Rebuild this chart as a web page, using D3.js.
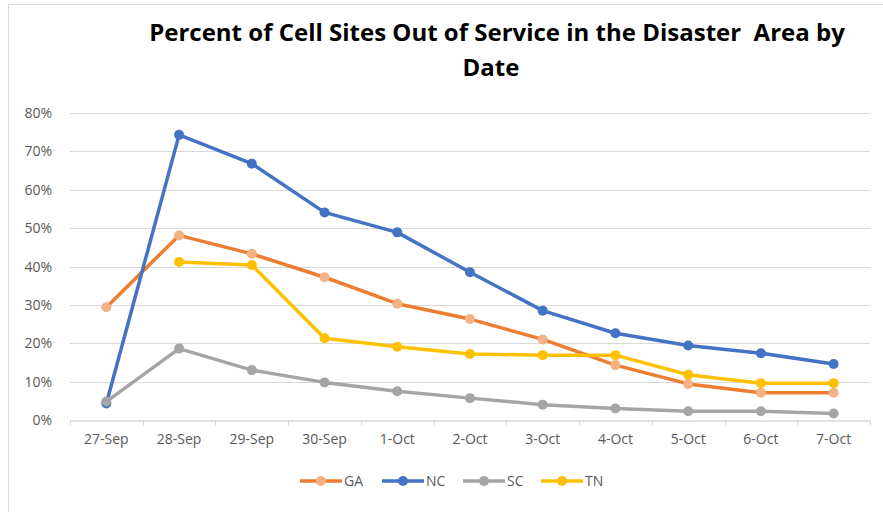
<!DOCTYPE html>
<html>
<head>
<meta charset="utf-8">
<script src="https://d3js.org/d3.v7.min.js"></script>
<style>
  body { margin: 0; background: #fff; }
  text { font-family: "Open Sans", "Liberation Sans", sans-serif; }
</style>
</head>
<body>
<div id="chart"></div>
<script>
// ---- data
var dates = ["27-Sep", "28-Sep", "29-Sep", "30-Sep", "1-Oct", "2-Oct", "3-Oct", "4-Oct", "5-Oct", "6-Oct", "7-Oct"];
var gaVals = [0.294, 0.481, 0.433, 0.372, 0.303, 0.263, 0.210, 0.143, 0.094, 0.071, 0.071];
var ncVals = [0.043, 0.743, 0.668, 0.541, 0.489, 0.385, 0.285, 0.226, 0.194, 0.174, 0.146];
var scVals = [0.048, 0.186, 0.130, 0.098, 0.075, 0.057, 0.040, 0.030, 0.023, 0.023, 0.017];
var tnVals = [null, 0.412, 0.404, 0.213, 0.191, 0.172, 0.169, 0.169, 0.118, 0.096, 0.096];
var yTicks = [0, 0.1, 0.2, 0.3, 0.4, 0.5, 0.6, 0.7, 0.8];

var series = [
  {name: "GA", vals: gaVals, line: "#ED7D31", dot: "#F4B183"},
  {name: "NC", vals: ncVals, line: "#4472C4", dot: "#4472C4"},
  {name: "SC", vals: scVals, line: "#A5A5A5", dot: "#A5A5A5"},
  {name: "TN", vals: tnVals, line: "#FFC000", dot: "#FFC000"}
];

var width = 883, height = 512;
var pLeft = 70, pRight = 870, pTop = 113, pBottom = 420;

var svg = d3.select("#chart").append("svg")
    .attr("width", width)
    .attr("height", height);

// chart frame (only top/left visible in the picture)
svg.append("path")
    .attr("d", "M8.5,512 V4.5 H883")
    .attr("fill", "none")
    .attr("stroke", "#d9d9d9");

var x = d3.scaleBand().domain(dates).range([pLeft, pRight]);
var y = d3.scaleLinear().domain([0, 0.8]).range([pBottom, pTop]);

// gridlines
svg.append("g").selectAll("line")
    .data(yTicks.slice(1))
    .enter().append("line")
    .attr("x1", pLeft).attr("x2", pRight)
    .attr("y1", d => Math.round(y(d)) + 0.5)
    .attr("y2", d => Math.round(y(d)) + 0.5)
    .attr("stroke", "#d9d9d9")
    .attr("stroke-width", 1);

// y labels
svg.append("g").selectAll("text")
    .data(yTicks)
    .enter().append("text")
    .attr("x", 52)
    .attr("y", d => y(d) + 5)
    .attr("text-anchor", "end")
    .attr("fill", "#595959")
    .style("font-size", "14px")
    .text(d3.format(".0%"));

// x axis
var xAxis = d3.axisBottom(x).tickSize(0).tickPadding(14);
var gx = svg.append("g")
    .attr("transform", "translate(0," + (Math.round(pBottom) + 0.5) + ")")
    .call(xAxis);
gx.select(".domain").attr("stroke", "#d9d9d9").attr("stroke-width", 1.5);
gx.selectAll("text")
    .attr("fill", "#595959")
    .style("font-size", "14px")
    .style("font-family", "'Open Sans', 'Liberation Sans', sans-serif");
// category boundary ticks
gx.append("g").selectAll("line")
    .data(dates.concat(["end"]))
    .enter().append("line")
    .attr("x1", (d, i) => Math.round(pLeft + i * x.step()) + 0.5)
    .attr("x2", (d, i) => Math.round(pLeft + i * x.step()) + 0.5)
    .attr("y1", 0).attr("y2", 5)
    .attr("stroke", "#d9d9d9");

var line = d3.line()
    .defined(d => d != null)
    .x((d, i) => x(dates[i]) + x.bandwidth() / 2)
    .y(d => y(d));

series.forEach(function(s) {
  var g = svg.append("g");
  g.append("path")
      .datum(s.vals)
      .attr("fill", "none")
      .attr("stroke", s.line)
      .attr("stroke-width", 3.5)
      .attr("stroke-linejoin", "round")
      .attr("d", line);
  g.selectAll("circle")
      .data(s.vals.map((v, i) => ({v: v, i: i})).filter(d => d.v != null))
      .enter().append("circle")
      .attr("cx", d => x(dates[d.i]) + x.bandwidth() / 2)
      .attr("cy", d => y(d.v))
      .attr("r", 5)
      .attr("fill", s.dot);
});

// title
var title = svg.append("text")
    .attr("text-anchor", "middle")
    .attr("fill", "#000")
    .style("font-size", "24px")
    .style("font-weight", "bold")
    .style("white-space", "pre");
title.append("tspan").attr("x", 497).attr("y", 41).text("Percent of Cell Sites Out of Service in the Disaster  Area by");
title.append("tspan").attr("x", 491).attr("y", 76).text("Date");

// legend
var legX = [300, 382, 463, 541];
var leg = svg.append("g").selectAll("g")
    .data(series)
    .enter().append("g")
    .attr("transform", (d, i) => "translate(" + legX[i] + ",481)");
leg.append("line")
    .attr("x1", 0).attr("x2", 42)
    .attr("stroke", d => d.line)
    .attr("stroke-width", 3.5);
leg.append("circle")
    .attr("cx", 21).attr("r", 5)
    .attr("fill", d => d.dot);
leg.append("text")
    .attr("x", 44).attr("y", 5)
    .attr("fill", "#595959")
    .style("font-size", "14px")
    .text(d => d.name);
</script>
</body>
</html>
